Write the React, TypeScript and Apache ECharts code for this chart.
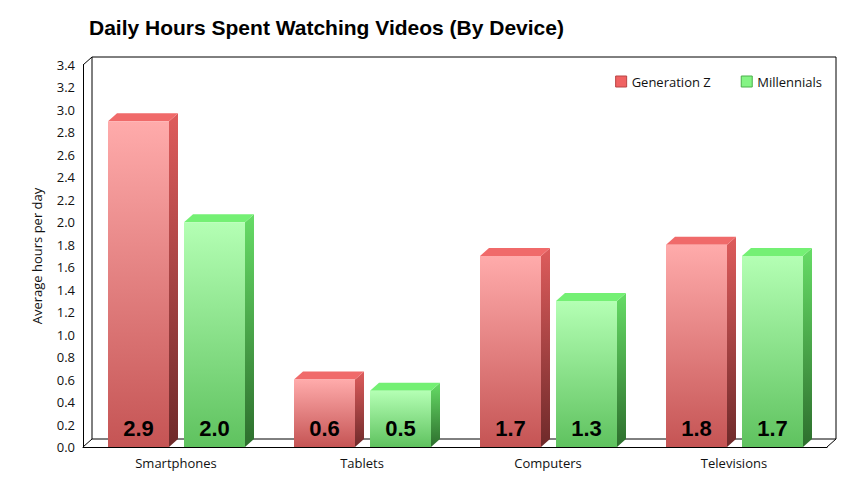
import React, { useEffect, useRef } from "react";
import * as echarts from "echarts";

const categories = ["Smartphones", "Tablets", "Computers", "Televisions"];
const genZ = [2.9, 0.6, 1.7, 1.8];
const millennials = [2.0, 0.5, 1.3, 1.7];
const seriesNames = ["Generation Z", "Millennials"];
const yMin = 0;
const yMax = 3.4;
const yStep = 0.2;

const GRID = { left: 83, right: 36, top: 65, bottom: 45 };
const W = 863;
const H = 492;
const DX = 9;
const DY = 8;

const palettes = [
  {
    front: ["#ffabab", "#c55454"],
    side: ["#de5c5c", "#6e2a2a"],
    top: "#f06a6a",
    legend: "#f06262",
    legendBorder: "#b84444",
  },
  {
    front: ["#b4ffb4", "#5fc25f"],
    side: ["#66dc66", "#2d6e2d"],
    top: "#74f074",
    legend: "#84f484",
    legendBorder: "#4ab04a",
  },
];

function makeRender(idx: number) {
  const pal = palettes[idx];
  const leftFrac = idx === 0 ? -68 / 186 : 8 / 186;
  const widthFrac = 61 / 186;
  return (params: any, api: any) => {
    const ci = api.value(0);
    const v = api.value(1);
    const topPt = api.coord([ci, v]);
    const basePt = api.coord([ci, 0]);
    const bw = api.size([1, 0])[0];
    const x0 = topPt[0] + leftFrac * bw;
    const w = widthFrac * bw;
    const x1 = x0 + w;
    const yt = topPt[1];
    const yb = basePt[1];
    return {
      type: "group",
      children: [
        {
          type: "polygon",
          shape: {
            points: [
              [x1, yt],
              [x1 + DX, yt - DY],
              [x1 + DX, yb - DY],
              [x1, yb],
            ],
          },
          style: {
            fill: new echarts.graphic.LinearGradient(0, 0, 0, 1, [
              { offset: 0, color: pal.side[0] },
              { offset: 1, color: pal.side[1] },
            ]),
          },
        },
        {
          type: "polygon",
          shape: {
            points: [
              [x0, yt],
              [x0 + DX, yt - DY],
              [x1 + DX, yt - DY],
              [x1, yt],
            ],
          },
          style: { fill: pal.top },
        },
        {
          type: "rect",
          shape: { x: x0, y: yt, width: w, height: yb - yt },
          style: {
            fill: new echarts.graphic.LinearGradient(0, 0, 0, 1, [
              { offset: 0, color: pal.front[0] },
              { offset: 1, color: pal.front[1] },
            ]),
          },
        },
        {
          type: "text",
          style: {
            text: v.toFixed(1),
            x: x0 + w / 2,
            y: yb - 19,
            align: "center",
            verticalAlign: "middle",
            fill: "#000",
            font: "bold 22px 'Liberation Sans', Arial, sans-serif",
          },
        },
      ],
    };
  };
}

export default function App() {
  const ref = useRef<HTMLDivElement>(null);
  useEffect(() => {
    if (!ref.current) return;
    const chart = echarts.init(ref.current, null, { renderer: "svg" });
    const fl = GRID.left;
    const fr = W - GRID.right;
    const ft = GRID.top;
    const fb = H - GRID.bottom;
    const lineStyle = { stroke: "#000", lineWidth: 1 };
    const labelFont = "'Open Sans', sans-serif";
    chart.setOption({
      animation: false,
      backgroundColor: "#fff",
      title: {
        text: "Daily Hours Spent Watching Videos (By Device)",
        left: 84,
        top: 12,
        textStyle: {
          fontFamily: "'Liberation Sans', Arial, sans-serif",
          fontWeight: "bold",
          fontSize: 21,
          color: "#000",
        },
      },
      legend: {
        right: 36,
        top: 70,
        itemWidth: 11,
        itemHeight: 11,
        itemGap: 30,
        textStyle: { fontFamily: labelFont, fontSize: 13, color: "#111" },
        data: seriesNames.map((n, i) => ({
          name: n,
          icon: "rect",
          itemStyle: {
            color: palettes[i].legend,
            borderColor: palettes[i].legendBorder,
            borderWidth: 1,
          },
        })),
      },
      graphic: [
        {
          type: "rect",
          z: -10,
          silent: true,
          shape: { x: fl + DX, y: ft - DY, width: fr - fl, height: fb - ft },
          style: { fill: "#fff", stroke: "#000", lineWidth: 1 },
        },
        {
          type: "line",
          z: -10,
          silent: true,
          shape: { x1: fl, y1: ft, x2: fl + DX, y2: ft - DY },
          style: lineStyle,
        },
        {
          type: "line",
          z: -10,
          silent: true,
          shape: { x1: fl, y1: fb, x2: fl + DX, y2: fb - DY },
          style: lineStyle,
        },
        {
          type: "line",
          z: -10,
          silent: true,
          shape: { x1: fr, y1: fb, x2: fr + DX, y2: fb - DY },
          style: lineStyle,
        },
      ],
      grid: { ...GRID },
      xAxis: {
        type: "category",
        data: categories,
        axisLine: { show: true, lineStyle: { color: "#000", width: 1 } },
        axisTick: { show: false },
        axisLabel: {
          fontFamily: labelFont,
          fontSize: 13,
          color: "#111",
          margin: 9,
        },
      },
      yAxis: {
        type: "value",
        min: yMin,
        max: yMax,
        interval: yStep,
        name: "Average hours per day",
        nameLocation: "middle",
        nameRotate: 90,
        nameGap: 40,
        nameTextStyle: { fontFamily: labelFont, fontSize: 13, color: "#111" },
        axisLine: { show: true, lineStyle: { color: "#000", width: 1 } },
        axisTick: { show: false },
        splitLine: { show: false },
        axisLabel: {
          fontFamily: labelFont,
          fontSize: 13,
          color: "#111",
          margin: 8,
          formatter: (v: number) => v.toFixed(1),
        },
      },
      series: [genZ, millennials].map((arr, i) => ({
        type: "custom",
        name: seriesNames[i],
        itemStyle: { color: palettes[i].legend },
        renderItem: makeRender(i),
        encode: { x: 0, y: 1 },
        data: arr.map((v, j) => [j, v]),
      })),
    });
    return () => chart.dispose();
  }, []);
  return <div ref={ref} style={{ width: W, height: H, marginLeft: -8, marginTop: -8 }} />;
}
